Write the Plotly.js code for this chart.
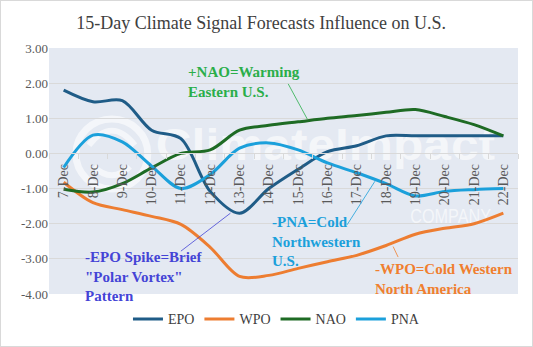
<!DOCTYPE html>
<html>
<head>
<meta charset="utf-8">
<script src="https://cdn.plot.ly/plotly-3.0.1.min.js"></script>
<style>
html,body{margin:0;padding:0;background:#fff;}
#wrap{position:relative;width:533px;height:347px;}
#chart{width:533px;height:347px;}
#frame{position:absolute;left:0;top:0;width:533px;height:347px;box-sizing:border-box;border:1px solid #d9d9d9;pointer-events:none;}
</style>
</head>
<body>
<div id="wrap"><div id="chart"></div><div id="frame"></div></div>
<script>
const categories = ["7-Dec","8-Dec","9-Dec","10-Dec","11-Dec","12-Dec","13-Dec","14-Dec","15-Dec","16-Dec","17-Dec","18-Dec","19-Dec","20-Dec","21-Dec","22-Dec"];
const epo = [1.80, 1.47, 1.50, 0.66, 0.42, -1.08, -1.70, -1.00, -0.45, 0.05, 0.22, 0.50, 0.50, 0.50, 0.50, 0.50];
const wpo = [-0.82, -1.40, -1.60, -1.79, -2.02, -2.67, -3.50, -3.47, -3.27, -3.08, -2.90, -2.62, -2.30, -2.13, -2.00, -1.70];
const nao = [-1.02, -1.10, -0.86, -0.41, 0.00, 0.10, 0.66, 0.80, 0.90, 1.00, 1.08, 1.17, 1.25, 1.05, 0.82, 0.50];
const pna = [-0.40, 0.52, 0.33, -0.36, -1.00, -0.60, 0.15, 0.30, 0.10, -0.27, -0.55, -0.86, -1.21, -1.08, -1.03, -1.00];
const seriesNames = ["EPO","WPO","NAO","PNA"];
const seriesColors = ["#1F5C87","#ED7D31","#1E6B24","#1BA0DB"];
const yTickVals = [3,2,1,0,-1,-2,-3,-4];
const yTickText = ["3.00","2.00","1.00","0.00","-1.00","-2.00","-3.00","-4.00"];

const serif = "Liberation Serif";
const allData = [epo, wpo, nao, pna];
const traces = allData.map((vals, i) => ({
  type: "scatter", mode: "lines",
  x: categories, y: vals, name: seriesNames[i],
  line: {color: seriesColors[i], width: 3, shape: "spline", smoothing: 0.9},
  hoverinfo: "skip"
}));

// faint watermark (logo) as an image behind the traces
const wmSvg = "<svg xmlns='http://www.w3.org/2000/svg' width='470' height='253' viewBox='0 0 470 253'>" +
  "<g fill='none' stroke='#ffffff' stroke-opacity='0.6'>" +
  "<circle cx='63' cy='109' r='36' stroke-width='7'/>" +
  "<path d='M40 100 Q63 70 86 100' stroke-width='6'/>" +
  "<path d='M45 122 Q63 140 81 122' stroke-width='6'/></g>" +
  "<text x='107' y='115' font-family='Liberation Sans, Arial, sans-serif' font-weight='bold' font-size='46' fill='#ffffff' fill-opacity='0.6' textLength='340' lengthAdjust='spacingAndGlyphs'>ClimateImpact</text>" +
  "<text x='362' y='180' font-family='Liberation Sans, Arial, sans-serif' font-size='21' fill='#ffffff' fill-opacity='0.6' textLength='81' lengthAdjust='spacingAndGlyphs'>COMPANY</text>" +
  "</svg>";
const wmSrc = "data:image/svg+xml;charset=utf-8," + encodeURIComponent(wmSvg);

const noteFont = (c) => ({family: serif, size: 15, color: c});
const annotations = [
  {xref:"x", yref:"y", x:4.19, y:2.02, xanchor:"left", yanchor:"middle", align:"left", showarrow:false,
   text:"<b>+NAO=Warming<br>Eastern U.S.</b>", font:noteFont("#2AAE4A")},
  {xref:"x", yref:"y", x:0.66, y:-3.5, xanchor:"left", yanchor:"middle", align:"left", showarrow:false,
   text:"<b>-EPO Spike=Brief<br>\"Polar Vortex\"<br>Pattern</b>", font:noteFont("#4444D6")},
  {xref:"x", yref:"y", x:7.05, y:-2.51, xanchor:"left", yanchor:"middle", align:"left", showarrow:false,
   text:"<b>-PNA=Cold<br>Northwestern<br>U.S.</b>", font:noteFont("#1BA0DB")},
  {xref:"x", yref:"y", x:10.55, y:-3.57, xanchor:"left", yanchor:"middle", align:"left", showarrow:false,
   text:"<b>-WPO=Cold Western<br>North America</b>", font:noteFont("#F07F2F")}
];

const shapes = [
  {type:"line", xref:"x", yref:"y", x0:7.66, y0:1.98, x1:8.31, y1:0.98, line:{color:"#2AAE4A", width:0.8}},
  {type:"line", xref:"x", yref:"y", x0:4.0, y0:-2.78, x1:5.69, y1:-1.70, line:{color:"#4444D6", width:0.8}},
  {type:"line", xref:"x", yref:"y", x0:9.67, y0:-2.03, x1:10.62, y1:-0.79, line:{color:"#1BA0DB", width:0.8}},
  {type:"line", xref:"x", yref:"y", x0:11.24, y0:-2.65, x1:11.41, y1:-2.95, line:{color:"#F07F2F", width:0.8}}
];

const layout = {
  width: 533, height: 347,
  margin: {l: 49, r: 15, t: 48, b: 46},
  paper_bgcolor: "#ffffff",
  plot_bgcolor: "#E4E9F2",
  showlegend: true,
  legend: {orientation:"h", x:0.485, xanchor:"center", y:-0.103, yanchor:"middle",
    font:{family:serif, size:14, color:"#404040"}, itemwidth:30, tracegroupgap:0},
  title: {text:"15-Day Climate Signal Forecasts Influence on U.S.", x:0.49, xanchor:"center", y:0.935, yanchor:"middle",
    font:{family:serif, size:18, color:"#404040"}},
  xaxis: {type:"category", range:[-0.5, 15.5], anchor:"free", position:4/7,
    showgrid:false, showline:true, linecolor:"#d9d9d9", linewidth:1,
    ticks:"outside", tickson:"boundaries", ticklen:5, tickcolor:"#d9d9d9", ticklabelstandoff:4,
    tickangle:-90, tickfont:{family:serif, size:14, color:"#595959"}, fixedrange:true},
  yaxis: {range:[-4, 3], tickvals:yTickVals, ticktext:yTickText,
    showgrid:true, gridcolor:"#d9d9d9", gridwidth:1, zeroline:false,
    tickfont:{family:serif, size:13, color:"#595959"}, ticks:"", fixedrange:true},
  images: [{source: wmSrc, xref:"x domain", yref:"y domain", x:0, y:1, sizex:1, sizey:1,
    xanchor:"left", yanchor:"top", sizing:"stretch", layer:"below", opacity:1}],
  annotations: annotations,
  shapes: shapes
};

Plotly.newPlot("chart", traces, layout, {displayModeBar:false, staticPlot:true});
</script>
</body>
</html>
